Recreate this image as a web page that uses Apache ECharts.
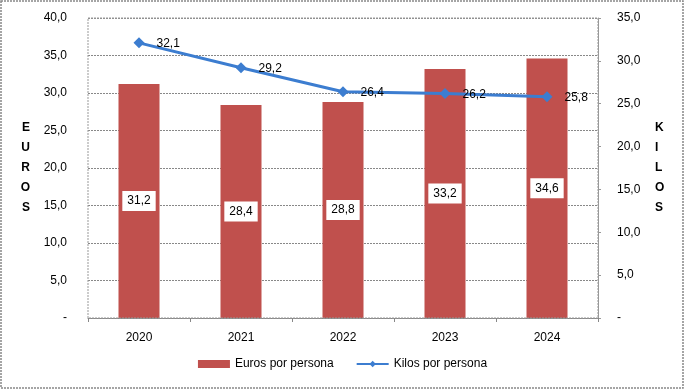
<!DOCTYPE html>
<html><head><meta charset="utf-8">
<script src="https://cdn.jsdelivr.net/npm/echarts@6/dist/echarts.min.js"></script>
<style>html,body{margin:0;padding:0;background:#fff}#c{width:685px;height:390px}</style>
</head><body><div id="c"></div>
<script>
var categories = ['2020','2021','2022','2023','2024'];
var eurosPorPersona = [31.2, 28.4, 28.8, 33.2, 34.6];
var kilosPorPersona = [32.1, 29.2, 26.4, 26.2, 25.8];
var fmt = function(v){ return v === 0 ? '-' : v.toFixed(1).replace('.', ','); };
var font = 'Liberation Sans';
var chart = echarts.init(document.getElementById('c'));
chart.setOption({
  animation: false,
  textStyle: { fontFamily: font },
  graphic: [{ type: 'rect', shape: { x: 1, y: 1, width: 682, height: 387 }, style: { fill: 'none', stroke: '#888', lineWidth: 1.5, lineDash: [2,1] }, z: -1 },
            { type: 'rect', shape: { x: 88, y: 18, width: 510, height: 300 }, style: { fill: 'none', stroke: '#999', lineWidth: 1, lineDash: [2,1] }, z: 10 }],
  grid: { left: 88, right: 87, top: 18, bottom: 72 },
  legend: {
    bottom: 15, left: 'center', itemGap: 22, itemWidth: 32, itemHeight: 8,
    textStyle: { fontFamily: font, fontSize: 12, color: '#000' },
    data: [{ name: 'Euros por persona', icon: 'rect' }, { name: 'Kilos por persona' }]
  },
  xAxis: {
    type: 'category', data: categories, boundaryGap: true,
    axisLine: { lineStyle: { color: '#888' } },
    axisTick: { show: true, length: 4, lineStyle: { color: '#888' } },
    axisLabel: { color: '#000', fontSize: 12, margin: 14, fontFamily: font }
  },
  yAxis: [{
    type: 'value', min: 0, max: 40, interval: 5, position: 'left',
    name: 'E\n\nU\n\nR\n\nO\n\nS', nameLocation: 'middle', nameRotate: 0, nameGap: 58,
    nameTextStyle: { fontSize: 12, fontWeight: 'bold', color: '#000', lineHeight: 10, fontFamily: font },
    axisLine: { show: false }, axisTick: { show: false },
    axisLabel: { formatter: fmt, color: '#000', fontSize: 12, margin: 21, fontFamily: font },
    splitLine: { lineStyle: { color: '#888', type: [2,1] } }
  }, {
    type: 'value', min: 0, max: 35, interval: 5, position: 'right',
    name: 'K\n\nI\n\nL\n\nO\n\nS', nameLocation: 'middle', nameRotate: 0, nameGap: 57,
    nameTextStyle: { fontSize: 12, fontWeight: 'bold', color: '#000', lineHeight: 10, fontFamily: font },
    axisLine: { show: true, lineStyle: { color: '#999' } }, axisTick: { show: true, length: 3, lineStyle: { color: '#999' } },
    axisLabel: { formatter: fmt, color: '#000', fontSize: 12, margin: 19, fontFamily: font },
    splitLine: { show: false }
  }],
  series: [{
    name: 'Euros por persona', type: 'bar', yAxisIndex: 0, data: eurosPorPersona, barWidth: 41,
    itemStyle: { color: '#C0504D' },
    label: { show: true, position: 'inside', formatter: function(p){ return fmt(p.value); },
      backgroundColor: '#fff', padding: [4, 5], color: '#000', fontSize: 12, fontFamily: font }
  }, {
    name: 'Kilos por persona', type: 'line', yAxisIndex: 1, data: kilosPorPersona,
    symbol: 'diamond', symbolSize: 11, lineStyle: { color: '#3C7DD0', width: 3 },
    itemStyle: { color: '#3C7DD0' },
    label: { show: true, position: 'right', distance: 12, offset: [0, 1], formatter: function(p){ return fmt(p.value); },
      color: '#000', fontSize: 12, fontFamily: font },
    z: 5
  }]
});
</script></body></html>
